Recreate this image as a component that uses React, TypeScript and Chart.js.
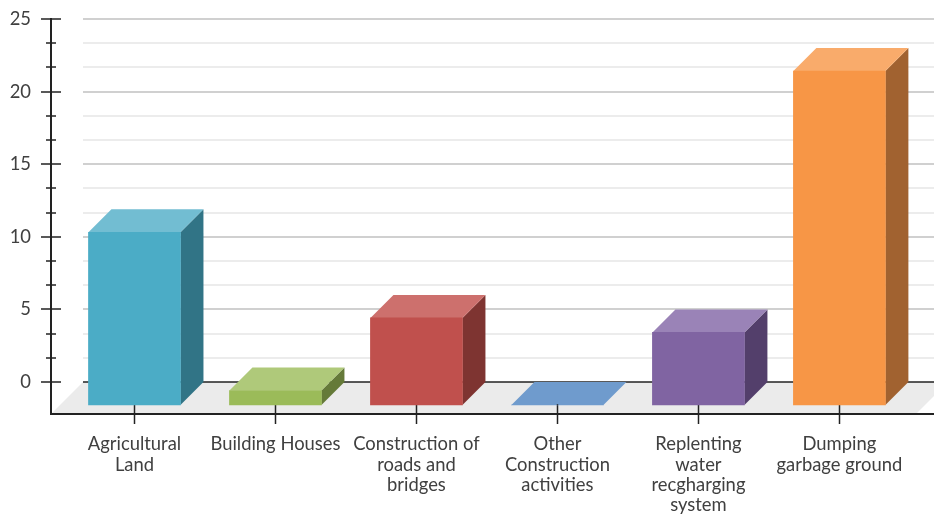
import React, { useEffect, useRef } from "react";
import { Chart, registerables } from "chart.js";

Chart.register(...registerables);

const categories: string[][] = [
  ["Agricultural", "Land"],
  ["Building Houses"],
  ["Construction of", "roads and", "bridges"],
  ["Other", "Construction", "activities"],
  ["Replenting", "water", "recgharging", "system"],
  ["Dumping", "garbage ground"],
];
const shareValues = [11.9, 1, 6, 0, 5, 23];
const axisTicks = [
  0, 1.667, 3.333, 5, 6.667, 8.333, 10, 11.667, 13.333, 15, 16.667, 18.333, 20,
  21.667, 23.333, 25,
];

const frontColors = ["#4bacc6", "#9bbb59", "#c0504d", "#6f9bcd", "#8064a2", "#f79646"];
const topColors = ["#72bdd2", "#afc97a", "#cd706d", "#6f9bcd", "#9a83b7", "#f9ab6b"];
const sideColors = ["#317486", "#657a39", "#7e3431", "#6f9bcd", "#533f6b", "#a16230"];

const FONT = { family: "Lato", size: 18.4, lineHeight: 1.11 };
const INK = "#404040";
const AXIS = "#222222";
const DX = 23;
const DY = 23;
const FLOOR_DEPTH = 31;

const isMajor = (v: number) => Math.abs(v % 5) < 1e-6;

function fillPolygon(ctx: CanvasRenderingContext2D, pts: number[][], color: string) {
  ctx.fillStyle = color;
  ctx.beginPath();
  pts.forEach(([x, y], i) => (i ? ctx.lineTo(x, y) : ctx.moveTo(x, y)));
  ctx.closePath();
  ctx.fill();
}

function hLine(ctx: CanvasRenderingContext2D, x0: number, x1: number, y: number, color: string, w: number) {
  ctx.strokeStyle = color;
  ctx.lineWidth = w;
  ctx.beginPath();
  ctx.moveTo(x0, y);
  ctx.lineTo(x1, y);
  ctx.stroke();
}

// Back wall, floor, axis tick marks and the extruded faces of each column.
const depthPlugin = {
  id: "depthPlugin",
  beforeDatasetsDraw(chart: any) {
    const { ctx, chartArea, scales } = chart;
    const y = scales.y;
    const x = scales.x;
    const zero = y.getPixelForValue(0);
    const wallLeft = chartArea.left + 32;
    const floorBottom = chartArea.bottom - 1;

    ctx.save();
    fillPolygon(
      ctx,
      [
        [wallLeft - FLOOR_DEPTH, floorBottom],
        [wallLeft, zero],
        [chartArea.right + 14, zero],
        [chartArea.right + 14 - FLOOR_DEPTH, floorBottom],
      ],
      "#ebebeb"
    );

    axisTicks.forEach((v) => {
      const py = Math.round(y.getPixelForValue(v));
      if (v === 0) hLine(ctx, wallLeft, chartArea.right, py, AXIS, 1.5);
      else if (isMajor(v)) hLine(ctx, wallLeft, chartArea.right, py, "#d0d0d0", 2);
      else hLine(ctx, wallLeft, chartArea.right, py, "#e6e6e6", 1.5);
    });
    axisTicks.forEach((v) => {
      const py = Math.round(y.getPixelForValue(v));
      const reach = isMajor(v) ? 10 : 5;
      hLine(ctx, chartArea.left - reach, chartArea.left + reach, py, AXIS, 1.5);
    });

    // Side and top faces sit behind the front rectangle the chart draws itself.
    chart.getDatasetMeta(0).data.forEach((bar: any, i: number) => {
      const half = bar.width / 2;
      const right = bar.x + half;
      const left = bar.x - half;
      const frontTop = bar.y + DY;
      const frontBase = bar.base + DY;
      if (bar.base - bar.y > 0) {
        fillPolygon(
          ctx,
          [
            [right, frontTop],
            [right + DX, bar.y],
            [right + DX, bar.base],
            [right, frontBase],
          ],
          sideColors[i]
        );
      }
      fillPolygon(
        ctx,
        [
          [left, frontTop],
          [left + DX, bar.y],
          [right + DX, bar.y],
          [right, frontTop],
        ],
        topColors[i]
      );
    });

    // Category tick marks run from the front of the columns through the axis.
    categories.forEach((_, i) => {
      const px = Math.round(x.getPixelForValue(i)) + 0.5;
      ctx.strokeStyle = AXIS;
      ctx.lineWidth = 1.5;
      ctx.beginPath();
      ctx.moveTo(px, chartArea.bottom - 10);
      ctx.lineTo(px, chartArea.bottom + 10);
      ctx.stroke();
    });
    ctx.restore();

    // The column fronts stand on the forward edge of the floor.
    ctx.save();
    ctx.translate(0, DY);
  },
  afterDatasetsDraw(chart: any) {
    chart.ctx.restore();
  },
};

export default function App() {
  const ref = useRef<HTMLCanvasElement>(null);

  useEffect(() => {
    const chart = new Chart(ref.current as HTMLCanvasElement, {
      type: "bar",
      data: {
        datasets: [
          {
            data: shareValues.map((v, i) => ({ x: i, y: v })),
            backgroundColor: frontColors,
            barThickness: 92,
            borderWidth: 0,
            clip: false,
          },
        ],
      } as any,
      options: {
        animation: false,
        responsive: false,
        layout: { padding: { top: 19, left: 0, right: 0, bottom: 0 } },
        plugins: { legend: { display: false }, tooltip: { enabled: false } },
        scales: {
          x: {
            type: "linear",
            offset: false,
            min: -0.592,
            max: 5.671,
            afterBuildTicks: (s: any) => {
              s.ticks = categories.map((_, i) => ({ value: i }));
            },
            afterFit: (s: any) => {
              s.height = 100;
            },
            grid: { display: false },
            border: { display: true, color: AXIS, width: 2 },
            ticks: {
              autoSkip: false,
              maxRotation: 0,
              padding: 12,
              color: INK,
              font: FONT,
              callback: (v: any) => categories[v] ?? "",
            },
          },
          y: {
            type: "linear",
            min: -2.204,
            max: 25,
            afterBuildTicks: (s: any) => {
              s.ticks = axisTicks.map((value) => ({ value }));
            },
            afterFit: (s: any) => {
              s.width = 51;
              s.paddingTop = 0;
              s.paddingBottom = 0;
            },
            grid: { display: false, drawTicks: false },
            border: { display: true, color: AXIS, width: 2 },
            ticks: {
              autoSkip: false,
              padding: 20,
              color: INK,
              font: FONT,
              callback: (v: any) => (isMajor(v) ? String(v) : ""),
            },
          },
        },
      } as any,
      plugins: [depthPlugin],
    });
    return () => chart.destroy();
  }, []);

  return (
    <div style={{ position: "fixed", left: 0, top: 0, width: 934, height: 514, background: "#fff" }}>
      <canvas ref={ref} width={934} height={514} style={{ display: "block" }} />
    </div>
  );
}
